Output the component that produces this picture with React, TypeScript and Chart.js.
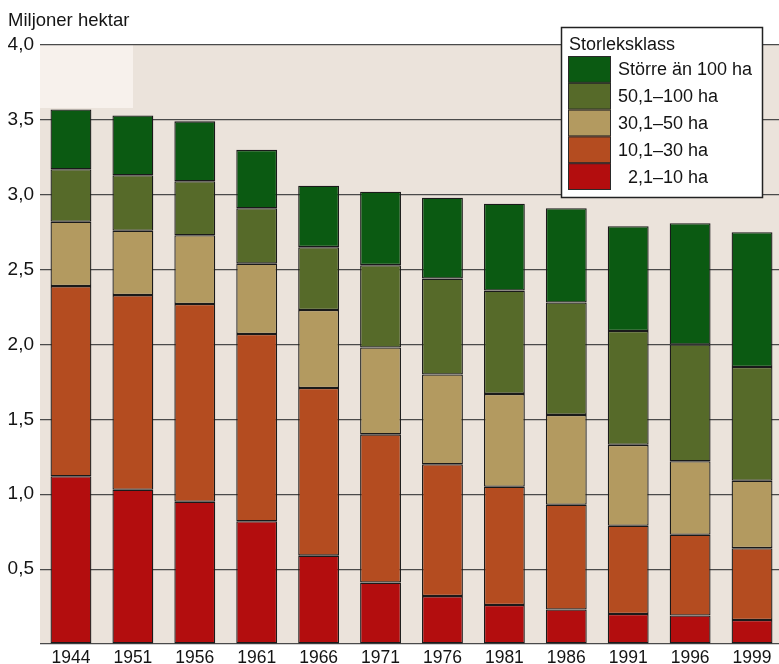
import React, { useEffect, useRef } from "react";
import { Chart, registerables } from "chart.js";

Chart.register(...registerables);

const years = ["1944", "1951", "1956", "1961", "1966", "1971", "1976", "1981", "1986", "1991", "1996", "1999"];
const ha2to10 = [1.12, 1.03, 0.95, 0.82, 0.59, 0.41, 0.32, 0.26, 0.23, 0.2, 0.19, 0.16];
const ha10to30 = [1.27, 1.3, 1.32, 1.25, 1.12, 0.99, 0.88, 0.79, 0.7, 0.59, 0.54, 0.48];
const ha30to50 = [0.43, 0.43, 0.46, 0.47, 0.52, 0.58, 0.6, 0.62, 0.6, 0.54, 0.49, 0.45];
const ha50to100 = [0.35, 0.37, 0.36, 0.37, 0.42, 0.55, 0.64, 0.69, 0.75, 0.76, 0.78, 0.76];
const haOver100 = [0.4, 0.4, 0.4, 0.39, 0.41, 0.49, 0.54, 0.58, 0.63, 0.7, 0.81, 0.9];

const seriesLabels = ["\u20072,1\u201310 ha", "10,1\u201330 ha", "30,1\u201350 ha", "50,1\u2013100 ha", "Större än 100 ha"];
const seriesColors = ["#b30d0e", "#b44c20", "#b39a60", "#566a29", "#0b5a12"];
const yAxisTitle = "Miljoner hektar";
const legendTitle = "Storleksklass";

const FONT = '"Liberation Sans", Arial, Helvetica, sans-serif';

const backgroundPlugin = {
  id: "plotBackground",
  beforeDraw(chart: any) {
    const { ctx, chartArea } = chart;
    ctx.save();
    ctx.fillStyle = "#ebe3db";
    ctx.fillRect(chartArea.left, chartArea.top, chartArea.right - chartArea.left, chartArea.bottom - chartArea.top);
    ctx.fillStyle = "rgba(255,250,246,0.6)";
    ctx.fillRect(chartArea.left, chartArea.top, 93, 63);
    ctx.restore();
  },
};

const legendPlugin = {
  id: "boxLegend",
  afterDraw(chart: any) {
    const ctx = chart.ctx;
    ctx.save();
    const bx = 561.5, by = 27.5, bw = 201, bh = 170;
    ctx.fillStyle = "#ffffff";
    ctx.fillRect(bx, by, bw, bh);
    ctx.strokeStyle = "#222";
    ctx.lineWidth = 1.5;
    ctx.strokeRect(bx, by, bw, bh);
    ctx.font = `18px ${FONT}`;
    ctx.fillStyle = "#141414";
    ctx.textAlign = "left";
    ctx.textBaseline = "alphabetic";
    ctx.fillText(legendTitle, 569, 50);
    const ds = chart.data.datasets.slice().reverse();
    const rowH = 26.8;
    ds.forEach((d: any, i: number) => {
      const y = 56 + i * rowH;
      ctx.fillStyle = d.backgroundColor;
      ctx.fillRect(568, y, 43, rowH);
      ctx.strokeStyle = "#2a2a2a";
      ctx.lineWidth = 1;
      ctx.strokeRect(568.5, y + 0.5, 42, rowH - 1);
      ctx.fillStyle = "#141414";
      ctx.textBaseline = "middle";
      ctx.fillText(d.label, 618, y + rowH / 2 + 1);
    });
    ctx.restore();
  },
};

export default function App() {
  const ref = useRef<HTMLCanvasElement>(null);
  useEffect(() => {
    if (!ref.current) return;
    const seriesData = [ha2to10, ha10to30, ha30to50, ha50to100, haOver100];
    const chart = new Chart(ref.current, {
      type: "bar",
      data: {
        labels: years,
        datasets: seriesData.map((d, i) => ({
          label: seriesLabels[i],
          data: d,
          backgroundColor: seriesColors[i],
          borderColor: "#1a1a1a",
          borderWidth: 1.3,
          borderSkipped: false,
          categoryPercentage: 1,
          barPercentage: 0.66,
        })),
      },
      options: {
        animation: false,
        responsive: false,
        devicePixelRatio: 1,
        layout: { padding: { left: 8, right: 7, top: 0, bottom: 0 } },
        plugins: {
          legend: { display: false },
          tooltip: { enabled: false },
          title: {
            display: true,
            text: yAxisTitle,
            align: "start",
            color: "#141414",
            font: { family: FONT, size: 18.5, weight: "normal" },
            padding: { top: 10, bottom: 12.8 },
          },
        },
        scales: {
          x: {
            stacked: true,
            grid: { display: false, drawTicks: false },
            border: { display: false },
            ticks: { color: "#141414", font: { family: FONT, size: 17.5 }, padding: 4, maxRotation: 0, autoSkip: false },
            afterFit: (scale: any) => {
              scale.height = 20;
            },
          },
          y: {
            stacked: true,
            min: 0,
            max: 4,
            grid: { color: "#4a4a4a", lineWidth: 1.2, drawTicks: false },
            border: { display: false },
            ticks: {
              stepSize: 0.5,
              color: "#141414",
              font: { family: FONT, size: 19 },
              padding: 6,
              callback: (v: any) => (v === 0 ? "" : Number(v).toFixed(1).replace(".", ",")),
            },
            afterFit: (scale: any) => {
              scale.width = 32;
            },
          },
        },
      },
      plugins: [backgroundPlugin, legendPlugin],
    });
    return () => chart.destroy();
  }, []);
  return (
    <div style={{ position: "absolute", left: 0, top: 0, width: 779, height: 664, overflow: "hidden", background: "#fff" }}>
      <canvas ref={ref} width={790} height={664} style={{ width: 790, height: 664, display: "block" }} />
    </div>
  );
}
